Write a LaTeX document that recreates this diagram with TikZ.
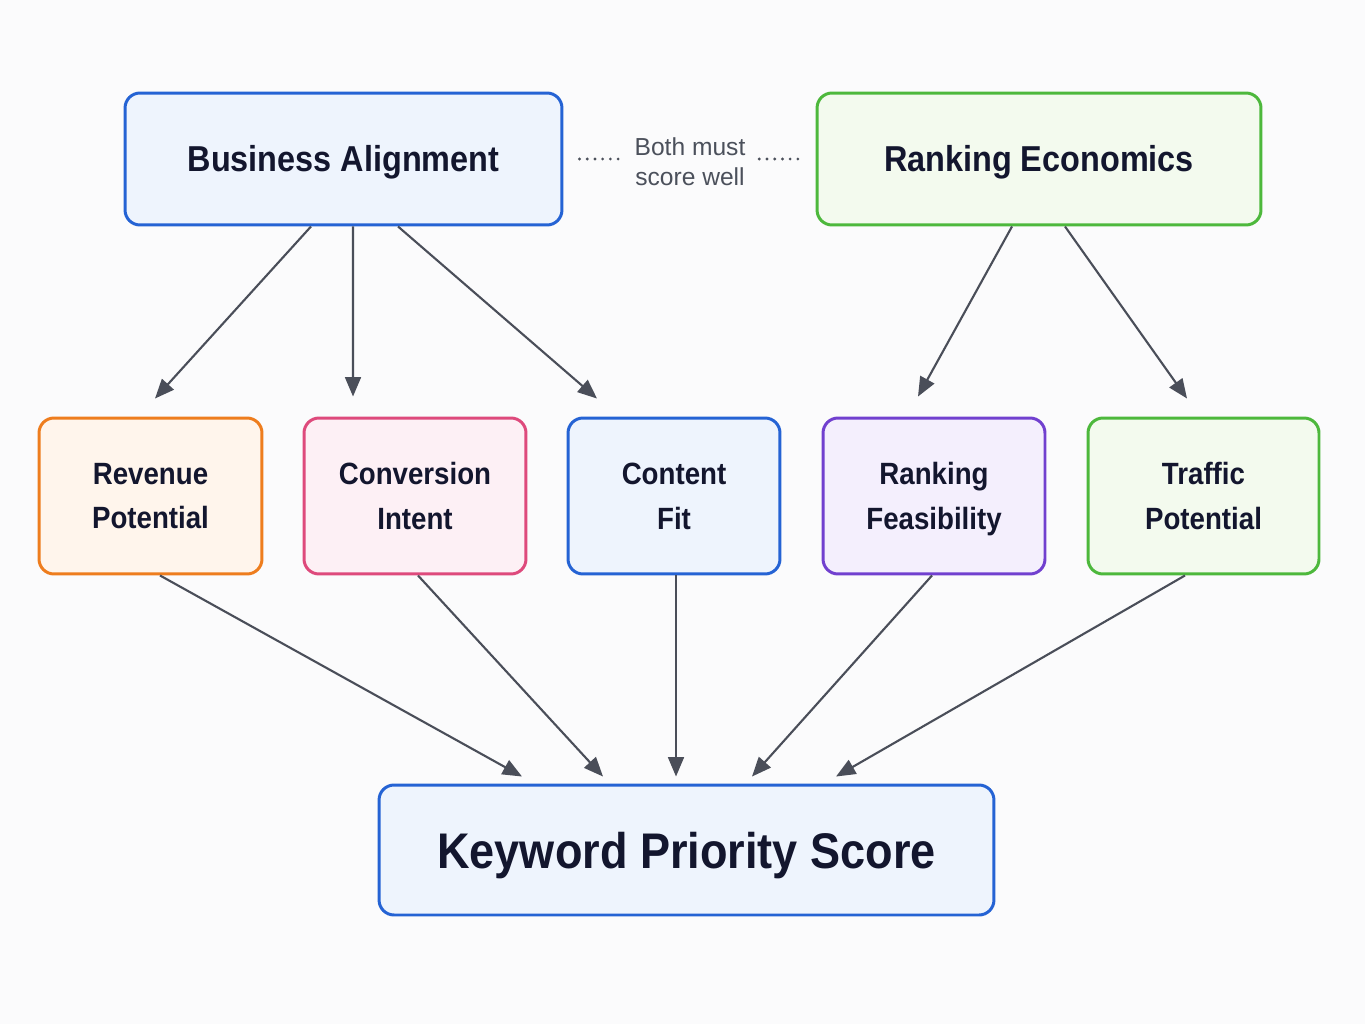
\documentclass[tikz,border=0pt]{standalone}
\usepackage{fontspec}
\setmainfont{Liberation Sans}
\newfontfamily\boxfont[FakeStretch=0.9]{Liberation Sans}
\usetikzlibrary{positioning,calc,arrows.meta}

\definecolor{bgWhite}{HTML}{FBFBFC}
\definecolor{inkDark}{HTML}{13162E}
\definecolor{arrowGray}{HTML}{4A4E59}
\definecolor{noteGray}{HTML}{4B505B}
\definecolor{blueLine}{HTML}{2563D4}
\definecolor{blueFill}{HTML}{EEF4FD}
\definecolor{greenLine}{HTML}{4DB83C}
\definecolor{greenFill}{HTML}{F3FAEE}
\definecolor{orangeLine}{HTML}{EE7D1E}
\definecolor{orangeFill}{HTML}{FFF5EC}
\definecolor{pinkLine}{HTML}{DE4A7C}
\definecolor{pinkFill}{HTML}{FDF0F5}
\definecolor{purpleLine}{HTML}{7140CF}
\definecolor{purpleFill}{HTML}{F4EFFD}

\begin{document}
\begin{tikzpicture}[x=0.02cm, y=-0.02cm,
    card/.style={rectangle, rounded corners=8.5pt, line width=1.7pt, inner sep=0pt,
      align=center, text=inkDark},
    topCard/.style={card, minimum height=2.64cm, text depth=1pt,
      font=\boxfont\bfseries\fontsize{20.5}{24}\selectfont},
    factor/.style={card, minimum height=3.12cm, text depth=0pt,
      font=\boxfont\bfseries\fontsize{17.5}{25.5}\selectfont},
    link/.style={arrowGray, line width=1.2pt, -{Triangle[length=11pt,width=9pt]}},
    dots/.style={noteGray, line width=1.8pt, line cap=round, dash pattern=on 0pt off 4.4pt}]

  \fill[bgWhite] (0,0) rectangle (1365,1024);
  \useasboundingbox (0,0) rectangle (1365,1024);

  % top row
  \node[topCard, draw=blueLine, fill=blueFill, minimum width=8.74cm] (busAlign) at (343.5,159) {Business Alignment};
  \node[topCard, draw=greenLine, fill=greenFill, minimum width=8.88cm] (rankEcon) at (1039,159) {Ranking Economics};
  \node[align=center, text=noteGray, font=\fontsize{14}{17}\selectfont, inner sep=2pt] (note) at (690,162) {Both must\\score well};

  \draw[dots] (busAlign.east) ++(16,0) -- ($(note.west)+(-6,-3)$);
  \draw[dots] ($(note.east)+(10,-3)$) -- ($(rankEcon.west)+(-13,0)$);

  % factors
  \node[factor, draw=orangeLine, fill=orangeFill, minimum width=4.46cm] (revPot) at (150.5,496) {Revenue\\Potential};
  \node[factor, draw=pinkLine, fill=pinkFill, minimum width=4.44cm] (convInt) at (415,496) {Conversion\\Intent};
  \node[factor, draw=blueLine, fill=blueFill, minimum width=4.24cm] (contFit) at (674,496) {Content\\Fit};
  \node[factor, draw=purpleLine, fill=purpleFill, minimum width=4.44cm] (rankFeas) at (934,496) {Ranking\\Feasibility};
  \node[factor, draw=greenLine, fill=greenFill, minimum width=4.62cm] (trafPot) at (1203.5,496) {Traffic\\Potential};

  % result
  \node[card, draw=blueLine, fill=blueFill, minimum width=12.3cm, minimum height=2.6cm, text depth=0pt,
    font=\boxfont\bfseries\fontsize{28.5}{32}\selectfont] (kwScore) at (686.5,850) {Keyword Priority Score};

  % top-down links
  \draw[link] ($(busAlign.south)+(-32.5,0)$) -- ($(revPot.north)+(4.5,-18)$);
  \draw[link] ($(busAlign.south)+(9.5,0)$) -- ($(convInt.north)+(-62,-20)$);
  \draw[link] ($(busAlign.south)+(54.5,0)$) -- ($(contFit.north)+(-77,-18)$);
  \draw[link] ($(rankEcon.south)+(-27,0)$) -- ($(rankFeas.north)+(-16,-20)$);
  \draw[link] ($(rankEcon.south)+(26,0)$) -- ($(trafPot.north)+(-16.5,-18)$);

  % into the score
  \draw[link] ($(revPot.south)+(9.5,0)$) -- ($(kwScore.north)+(-164.5,-7)$);
  \draw[link] ($(convInt.south)+(3,0)$) -- ($(kwScore.north)+(-83.5,-7)$);
  \draw[link] ($(contFit.south)+(2,0)$) -- ($(kwScore.north)+(-10.5,-7)$);
  \draw[link] ($(rankFeas.south)+(-2,0)$) -- ($(kwScore.north)+(65.5,-7)$);
  \draw[link] ($(trafPot.south)+(-18.5,0)$) -- ($(kwScore.north)+(149.5,-7)$);
\end{tikzpicture}
\end{document}
